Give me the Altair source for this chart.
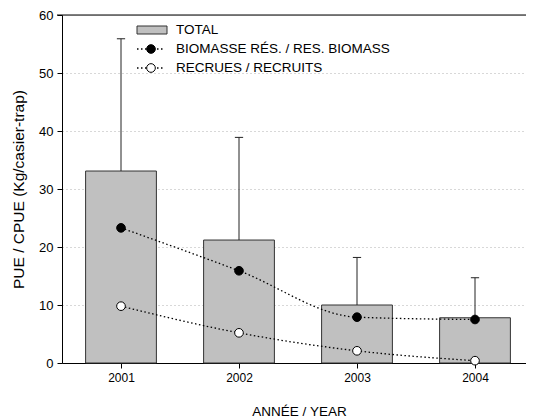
import altair as alt
import pandas as pd

years = [2001, 2002, 2003, 2004]
total = [33.1, 21.2, 10.0, 7.8]
total_upper = [55.9, 38.9, 18.2, 14.7]
biomass = [23.3, 15.9, 7.9, 7.5]
recruits = [9.8, 5.2, 2.1, 0.4]
series_names = ["TOTAL", "BIOMASSE RÉS. / RES. BIOMASS", "RECRUES / RECRUITS"]
y_ticks = list(range(0, 61, 5))

FONT = "Liberation Sans"
STEP = 118
W, H = 464, 348

df = pd.DataFrame({
    "year": years,
    "total": total,
    "upper": total_upper,
    "biomass": biomass,
    "recruits": recruits,
})
df["x0"] = df["year"] - 0.3
df["x1"] = df["year"] + 0.3
df["c0"] = df["year"] - 0.035
df["c1"] = df["year"] + 0.035

xscale = alt.Scale(domain=[2000.5, 2000.5 + W / STEP], nice=False, zero=False)
yscale = alt.Scale(domain=[0, 60], nice=False)

major = "datum.value % 10 === 0"
xaxis = alt.Axis(
    values=years, format="d", title="ANNÉE / YEAR", grid=False,
    labelFont=FONT, labelFontSize=12, labelColor="#000",
    titleFont=FONT, titleFontSize=13.5, titleFontWeight="normal", titleColor="#000",
    tickSize=5, tickColor="#000", domainColor="#000", labelPadding=4, titlePadding=21,
    titleX=237,
)
yaxis = alt.Axis(
    values=y_ticks, title="PUE / CPUE (Kg/casier-trap)",
    labelExpr="datum.value % 10 === 0 ? datum.label : ''",
    labelFont=FONT, labelFontSize=13, labelColor="#000",
    titleFont=FONT, titleFontSize=15.5, titleFontWeight="normal", titleColor="#000",
    tickColor="#000", domainColor="#000", labelPadding=4, titlePadding=12,
    tickSize={"condition": {"test": major, "value": 5}, "value": 3},
    grid=True, gridColor="#b0b0b0", gridDash=[1, 3], gridWidth=1,
    gridOpacity={"condition": {"test": "datum.value % 10 === 0 && datum.value > 0 && datum.value < 60", "value": 1}, "value": 0},
)

base = alt.Chart(df)

bars = base.mark_rect(fill="#c0c0c0", stroke="#333333", strokeWidth=1).encode(
    x=alt.X("x0:Q", scale=xscale, axis=xaxis),
    x2="x1:Q",
    y=alt.Y("total:Q", scale=yscale, axis=yaxis),
    y2=alt.datum(0),
)
stem = base.mark_rule(color="#222", strokeWidth=1).encode(
    x=alt.X("year:Q", scale=xscale), y=alt.Y("total:Q", scale=yscale), y2="upper:Q"
)
cap = base.mark_rule(color="#222", strokeWidth=1).encode(
    x=alt.X("c0:Q", scale=xscale), x2="c1:Q", y=alt.Y("upper:Q", scale=yscale)
)

def series(field, fill):
    line = base.mark_line(color="#000", strokeWidth=1.3, strokeDash=[1.5, 2.5], interpolate="monotone").encode(
        x=alt.X("year:Q", scale=xscale), y=alt.Y(f"{field}:Q", scale=yscale)
    )
    pts = base.mark_point(filled=True, fill=fill, stroke="#000", strokeWidth=1, size=75, opacity=1, shape="circle").encode(
        x=alt.X("year:Q", scale=xscale), y=alt.Y(f"{field}:Q", scale=yscale)
    )
    return line + pts

top_line = alt.Chart(pd.DataFrame({"a": [0]})).mark_rule(color="#000", strokeWidth=1).encode(
    x=alt.value(-5), x2=alt.value(W), y=alt.value(0)
)

# legend
leg = pd.DataFrame({"name": series_names})
leg_rect = alt.Chart(leg.iloc[[0]]).mark_rect(fill="#c0c0c0", stroke="#333", strokeWidth=1).encode(
    x=alt.value(75), x2=alt.value(105), y=alt.value(11), y2=alt.value(19)
)
def leg_text(i, y):
    return alt.Chart(leg.iloc[[i]]).mark_text(align="left", baseline="middle", font=FONT, fontSize=13.5, color="#000").encode(
        x=alt.value(114), y=alt.value(y), text="name:N"
    )
def leg_line(i, y, fill):
    d = leg.iloc[[i]]
    ln = alt.Chart(d).mark_rule(color="#000", strokeWidth=1.3, strokeDash=[1.5, 2.5]).encode(
        x=alt.value(75), x2=alt.value(101), y=alt.value(y)
    )
    pt = alt.Chart(d).mark_point(filled=True, fill=fill, stroke="#000", strokeWidth=1, size=75, opacity=1).encode(
        x=alt.value(89), y=alt.value(y)
    )
    return ln + pt

chart = alt.layer(
    bars, stem, cap, series("biomass", "#000"), series("recruits", "#fff"), top_line,
    leg_rect, leg_text(0, 15), leg_line(1, 34, "#000"), leg_text(1, 34), leg_line(2, 53, "#fff"), leg_text(2, 53),
).properties(
    width=W, height=H,
    autosize=alt.AutoSizeParams(type="none"),
    padding={"left": 54, "top": 7, "right": 0, "bottom": 56},
).configure_view(stroke=None).configure(background="white")

chart.save("out.html", embed_options={"renderer": "svg", "actions": False})
